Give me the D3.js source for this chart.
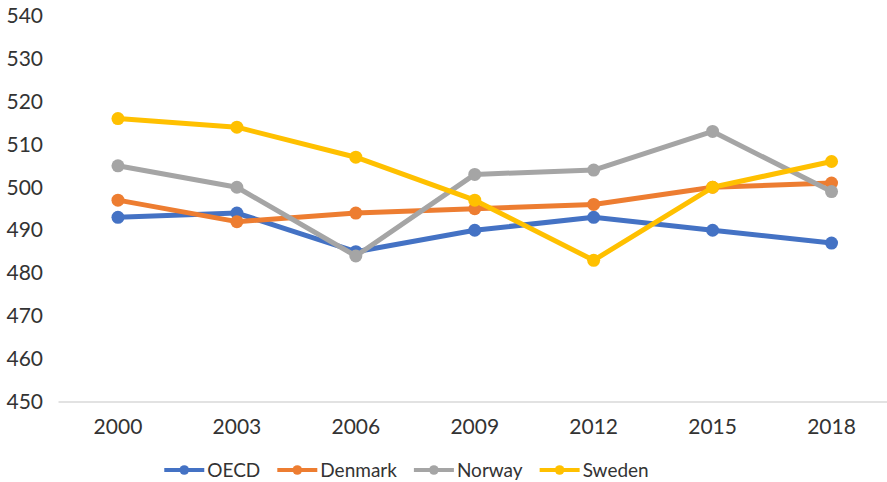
<!DOCTYPE html>
<html>
<head>
<meta charset="utf-8">
<script src="https://cdn.jsdelivr.net/npm/d3@7"></script>
<style>
  html, body { margin: 0; padding: 0; background: #ffffff; }
  svg { display: block; }
  text { font-family: Lato, "Open Sans", sans-serif; fill: #333333; }
</style>
</head>
<body>
<svg id="chart" width="887" height="482"></svg>
<script>
// PISA reading scores by survey year
const years = ["2000", "2003", "2006", "2009", "2012", "2015", "2018"];
const oecd    = [493, 494, 485, 490, 493, 490, 487];
const denmark = [497, 492, 494, 495, 496, 500, 501];
const norway  = [505, 500, 484, 503, 504, 513, 499];
const sweden  = [516, 514, 507, 497, 483, 500, 506];
const seriesNames = ["OECD", "Denmark", "Norway", "Sweden"];
const seriesColors = ["#4472C4", "#ED7D31", "#A5A5A5", "#FFC000"];
const yTicks = [450, 460, 470, 480, 490, 500, 510, 520, 530, 540];

const series = [oecd, denmark, norway, sweden].map((values, i) => ({
  name: seriesNames[i], color: seriesColors[i], values
}));

const svg = d3.select("#chart");
const W = 887;

const x = d3.scaleBand().domain(years).range([58.5, 891]).padding(0);
const y = d3.scaleLinear().domain([450, 540]).range([402, 15.5]);
const cx = d => x(d) + x.bandwidth() / 2;

// y-axis labels (no axis line)
const yAxis = d3.axisLeft(y).tickValues(yTicks).tickSize(0).tickPadding(0);
const gy = svg.append("g").attr("transform", "translate(43,0)").call(yAxis);
gy.select(".domain").remove();
gy.selectAll("text").style("font-size", "21px").attr("fill", "#333333")
  .attr("font-family", "Lato, 'Open Sans', sans-serif");

// x-axis baseline and labels
const xAxis = d3.axisBottom(x).tickSize(0).tickPadding(0);
const gx = svg.append("g").attr("transform", `translate(0,${y(450)})`).call(xAxis);
gx.select(".domain").attr("stroke", "#d9d9d9").attr("stroke-width", 1.5)
  .attr("d", `M58.5,0H${W}`);
gx.selectAll("text").style("font-size", "21px").attr("fill", "#333333")
  .attr("dy", "0").attr("y", 32)
  .attr("font-family", "Lato, 'Open Sans', sans-serif");

// series lines and markers
const line = d3.line().x((v, i) => cx(years[i])).y(v => y(v));
series.forEach(s => {
  const g = svg.append("g");
  g.append("path").attr("d", line(s.values)).attr("fill", "none")
    .attr("stroke", s.color).attr("stroke-width", 5)
    .attr("stroke-linejoin", "round").attr("stroke-linecap", "round");
  g.selectAll("circle").data(s.values).join("circle")
    .attr("cx", (v, i) => cx(years[i])).attr("cy", v => y(v))
    .attr("r", 6.5).attr("fill", s.color);
});

// legend, laid out left to right and centred as a block
const legend = svg.append("g").attr("transform", "translate(0,470)");
const items = series.map(s => {
  const item = legend.append("g");
  item.append("line").attr("x1", 0).attr("x2", 40).attr("y1", 0).attr("y2", 0)
    .attr("stroke", s.color).attr("stroke-width", 4);
  item.append("circle").attr("cx", 20).attr("cy", 0).attr("r", 4.8).attr("fill", s.color);
  const t = item.append("text").attr("x", 43).attr("y", 0).attr("dy", "0.36em")
    .style("font-size", "19px").text(s.name);
  return { item, w: 43 + t.node().getComputedTextLength() };
});
const gap = 17;
const total = d3.sum(items, d => d.w) + gap * (items.length - 1);
let lx = 406.5 - total / 2;
items.forEach(d => {
  d.item.attr("transform", `translate(${lx},0)`);
  lx += d.w + gap;
});
</script>
</body>
</html>
